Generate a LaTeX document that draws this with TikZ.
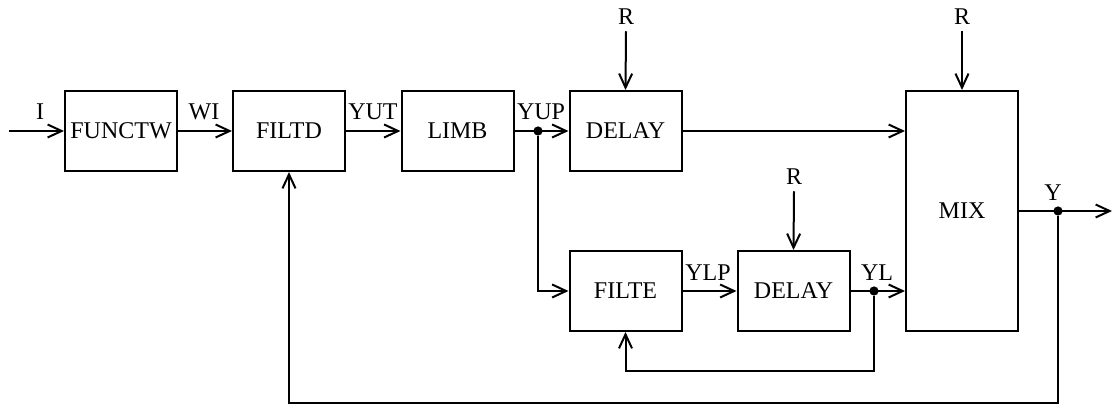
\documentclass[tikz,border=0pt]{standalone}
\usepackage{fontspec}
\setmainfont{Liberation Serif}
\usepackage{tikz}
\usetikzlibrary{arrows.meta,calc}
\tikzset{
  % bloklar
  blk/.style   = {draw, line width=1pt, minimum width=56pt, minimum height=40pt,
                  inner sep=0pt, font=\fontsize{12}{14}\selectfont},
  % signal chiziqlari
  sig/.style   = {line width=1pt, -{Straight Barb[length=7pt,width=6.5pt,line width=1pt]}},
  % tugun nuqtalari
  dotpt/.style = {circle, fill=black, inner sep=0pt, minimum size=4.6pt},
  % etiketlar
  lab/.style   = {font=\fontsize{12}{14}\selectfont, inner sep=1pt},
}
\begin{document}
\begin{tikzpicture}[x=0.5pt, y=-0.5pt]
  \useasboundingbox (0,0) rectangle (1113,405);
  % bloklar
  \node[blk] (functw) at (121,131) {FUNCTW};
  \node[blk] (filtd)  at (289,131) {FILTD};
  \node[blk] (limb)   at (457.5,131) {LIMB};
  \node[blk] (delA)   at (625.5,131) {DELAY};
  \node[blk] (filte)  at (625.5,291) {FILTE};
  \node[blk] (delB)   at (793.5,291) {DELAY};
  \node[blk, minimum height=120pt] (mix) at (962,211) {MIX};
  % tarmoqlanish nuqtalari
  \node[dotpt] (yup) at (538,131) {};
  \node[dotpt] (yl)  at (874,291) {};
  \node[dotpt] (yo)  at (1058,211) {};
  \coordinate (in)  at (9,131);
  \coordinate (out) at (1112,211);
  \coordinate (fbl) at (874,371);
  \coordinate (fbb) at (1058,403);
  % R kirishlari
  \node[lab] (rA) at (626,17)  {R};
  \node[lab] (rB) at (794,177) {R};
  \node[lab] (rM) at (962,17)  {R};
  \draw[sig] (rA.south) ++(0,4) -- (delA.north);
  \draw[sig] (rB.south) ++(0,4) -- (delB.north);
  \draw[sig] (rM.south) ++(0,4) -- (mix.north);
  % asosiy zanjir
  \draw[sig] (in) -- (functw);
  \draw[sig] (functw) -- (filtd);
  \draw[sig] (filtd) -- (limb);
  \draw[sig] (limb) -- (delA);
  \draw[sig] (delA) -- (delA -| mix.west);
  \draw[sig] (yup) |- (filte);
  \draw[sig] (filte) -- (delB);
  \draw[sig] (delB) -- (delB -| mix.west);
  \draw[sig] (mix) -- (out);
  % teskari aloqalar
  \draw[sig] (yl) -- (fbl) -| (filte.south);
  \draw[sig] (yo) -- (fbb) -| (filtd.south);
  % signal nomlari
  \node[lab] (lI)   at (40,112)   {I};
  \node[lab] (lWI)  at (204,112)  {WI};
  \node[lab] (lYUT) at (373,112)  {YUT};
  \node[lab] (lYUP) at (541,112)  {YUP};
  \node[lab] (lYLP) at (708,273)  {YLP};
  \node[lab] (lYL)  at (877,273)  {YL};
  \node[lab] (lY)   at (1053,193) {Y};
\end{tikzpicture}
\end{document}
